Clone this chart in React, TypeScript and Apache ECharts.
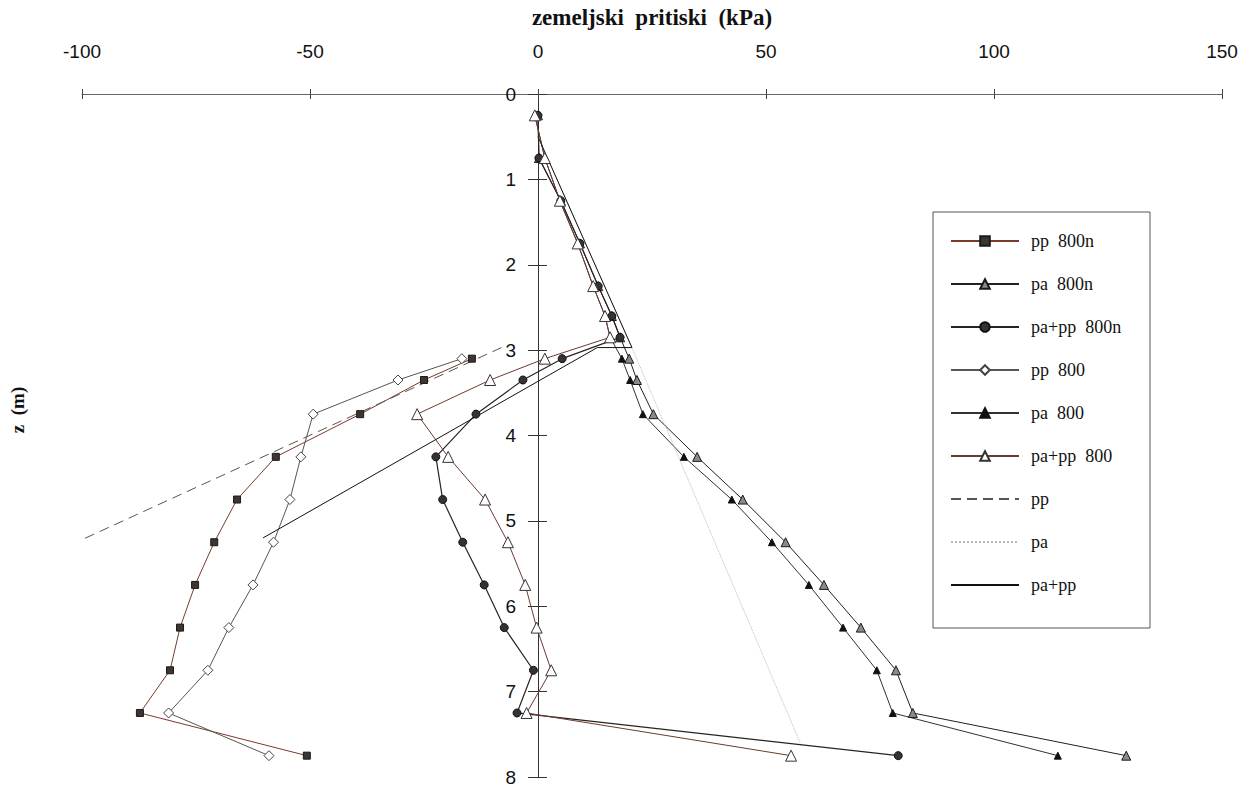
import React, { useEffect, useRef } from "react";
import * as echarts from "echarts";

// depths (m)
const depth = [0.25, 0.75, 1.25, 1.75, 2.25, 2.6, 2.85, 3.1, 3.35, 3.75, 4.25, 4.75, 5.25, 5.75, 6.25, 6.75, 7.25, 7.75];
const depthLow = [3.1, 3.35, 3.75, 4.25, 4.75, 5.25, 5.75, 6.25, 6.75, 7.25, 7.75];

// measured pressures (kPa)
const pp800n = [-14.5, -25, -39, -57.5, -66, -71, -75.2, -78.5, -80.7, -87.3, -50.7];
const pa800n = [0, 0.2, 5, 9.2, 13.2, 16.2, 18, 20, 21.7, 25.3, 34.9, 44.9, 54.3, 62.7, 70.8, 78.5, 82.2, 129];
const papp800n = [0, 0.2, 5, 9.2, 13.2, 16.2, 18, 5.3, -3.3, -13.6, -22.4, -20.9, -16.5, -11.8, -7.4, -1, -4.6, 79];
const pp800 = [-16.7, -30.7, -49.3, -52, -54.4, -58, -62.5, -67.8, -72.4, -81, -59];
const pa800 = [-0.7, 1.5, 4.8, 8.7, 12.1, 14.7, 15.8, 18.4, 20.2, 23, 32, 42.5, 51.3, 59.4, 66.9, 74.3, 77.8, 114];
const papp800 = [-0.7, 1.5, 4.8, 8.7, 12.1, 14.7, 15.8, 1.5, -10.5, -26.5, -19.7, -11.6, -6.6, -2.8, -0.3, 2.9, -2.5, 55.5];

// theoretical lines
const theoPpX = [-8, -100];
const theoPpZ = [2.97, 5.22];
const theoPaX = [0, 20.6, 57.5];
const theoPaZ = [0.5, 2.97, 7.6];
const theoPaPpX = [0, 20.6, 13, -60.3];
const theoPaPpZ = [0.5, 2.97, 2.97, 5.2];

const pairs = (xs: number[], zs: number[]) => xs.map((x, i) => [x, zs[i]]);

const serif = "'Liberation Serif', 'Times New Roman', serif";
const sans = "'Liberation Sans', Arial, sans-serif";

export default function App() {
  const ref = useRef<HTMLDivElement>(null);
  useEffect(() => {
    if (!ref.current) return;
    const chart = echarts.init(ref.current, undefined, { renderer: "svg" });
    const mk = (
      name: string,
      data: number[][],
      lineColor: string,
      lineWidth: number,
      lineType: any,
      symbol: string,
      symbolSize: number,
      fill: string,
      border: string
    ) => ({
      name,
      type: "line",
      xAxisIndex: 0,
      yAxisIndex: 0,
      data,
      symbol,
      symbolSize,
      showAllSymbol: true,
      lineStyle: { color: lineColor, width: lineWidth, type: lineType },
      itemStyle:
        symbol === "none"
          ? { color: "rgba(0,0,0,0)", borderColor: "rgba(0,0,0,0)", borderWidth: 0, opacity: 0 }
          : { color: fill, borderColor: border, borderWidth: 1 },
      emphasis: { disabled: true },
      z: 3,
    });
    const yOffset = -(538 - 82);
    const option: any = {
      animation: false,
      backgroundColor: "#fff",
      grid: { left: 82, right: 28, top: 94, bottom: 10, containLabel: false, outerBoundsMode: "none" },
      xAxis: [
        {
          type: "value",
          position: "top",
          min: -100,
          max: 150,
          interval: 50,
          name: "zemeljski  pritiski  (kPa)",
          nameLocation: "middle",
          nameGap: 65,
          nameTextStyle: { fontFamily: serif, fontWeight: "bold", fontSize: 23, color: "#111" },
          axisLine: { onZero: false, lineStyle: { color: "#666", width: 1 } },
          axisTick: { inside: true, length: 5, lineStyle: { color: "#444" } },
          axisLabel: { margin: 33, fontFamily: sans, fontSize: 19, color: "#111", formatter: (v: number) => String(v) },
          splitLine: { show: false },
        },
        {
          type: "value",
          position: "top",
          min: -100,
          max: 150,
          interval: 50,
          axisLine: { show: false, onZero: false },
          axisTick: { inside: false, length: 5, lineStyle: { color: "#444" } },
          axisLabel: { show: false },
          splitLine: { show: false },
        },
      ],
      yAxis: [
        {
          type: "value",
          inverse: true,
          min: 0,
          max: 8,
          interval: 1,
          position: "left",
          offset: yOffset,
          axisLine: { onZero: false, lineStyle: { color: "#333", width: 1 } },
          axisTick: { inside: false, length: 10, lineStyle: { color: "#333" } },
          axisLabel: { margin: 22, fontFamily: sans, fontSize: 19, color: "#111" },
          splitLine: { show: false },
        },
        {
          type: "value",
          inverse: true,
          min: 0,
          max: 8,
          interval: 1,
          position: "left",
          offset: yOffset,
          axisLine: { show: false, onZero: false },
          axisTick: { inside: true, length: 9, lineStyle: { color: "#333" } },
          axisLabel: { show: false },
          splitLine: { show: false },
        },
      ],
      legend: {
        orient: "vertical",
        left: 950,
        top: 232,
        itemWidth: 68,
        itemHeight: 12,
        itemGap: 25,
        padding: 0,
        textStyle: { fontFamily: serif, fontSize: 18, color: "#111", padding: [0, 0, 0, 7] },
        data: [
          "pp  800n",
          "pa  800n",
          "pa+pp  800n",
          "pp  800",
          "pa  800",
          "pa+pp  800",
          { name: "pp", itemStyle: { opacity: 0 } },
          { name: "pa", itemStyle: { opacity: 0 } },
          { name: "pa+pp", itemStyle: { opacity: 0 } },
        ],
      },
      graphic: [
        {
          type: "rect",
          shape: { x: 933, y: 212, width: 217, height: 416 },
          style: { fill: "none", stroke: "#555", lineWidth: 1 },
          z: 10,
        },
        {
          type: "text",
          x: 17,
          y: 410,
          rotation: Math.PI / 2,
          style: {
            text: "z  (m)",
            fontFamily: serif,
            fontWeight: "bold",
            fontSize: 19,
            fill: "#111",
            align: "center",
            verticalAlign: "middle",
          },
        },
      ],
      series: [
        mk("pp  800n", pairs(pp800n, depthLow), "#7a3a2c", 1, "solid", "rect", 7, "#3d3530", "#1a1a1a"),
        mk("pa  800n", pairs(pa800n, depth), "#222", 1, "solid", "triangle", 9, "#8a8a8a", "#1a1a1a"),
        mk("pa+pp  800n", pairs(papp800n, depth), "#2a2220", 1.2, "solid", "circle", 8, "#333", "#111"),
        mk("pp  800", pairs(pp800, depthLow), "#555", 1, "solid", "diamond", 10, "#fff", "#444"),
        mk("pa  800", pairs(pa800, depth), "#333", 1, "solid", "triangle", 7, "#111", "#111"),
        mk("pa+pp  800", pairs(papp800, depth), "#6e3a2e", 1, "solid", "triangle", 11, "#fff", "#333"),
        mk("pp", pairs(theoPpX, theoPpZ), "#555", 1, [10, 6], "none", 0, "#555", "#555"),
        mk("pa", pairs(theoPaX, theoPaZ), "#bbb", 1, "dotted", "none", 0, "#bbb", "#bbb"),
        mk("pa+pp", pairs(theoPaPpX, theoPaPpZ), "#111", 1, "solid", "none", 0, "#111", "#111"),
      ],
    };
    chart.setOption(option);
    return () => chart.dispose();
  }, []);
  return (
    <div
      ref={ref}
      style={{ position: "fixed", left: 0, top: 0, width: 1250, height: 787, background: "#fff" }}
    />
  );
}
